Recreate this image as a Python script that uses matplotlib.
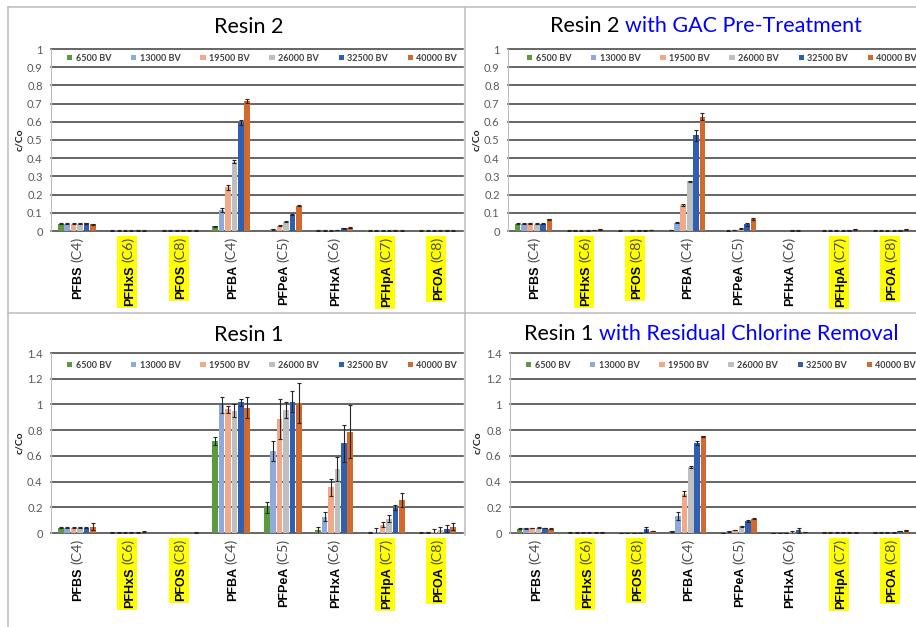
import matplotlib
matplotlib.use("Agg")
import matplotlib.pyplot as plt
import numpy as np
from matplotlib.patches import Rectangle
from matplotlib.lines import Line2D
from matplotlib.ticker import FuncFormatter

plt.rcParams["font.family"] = ["Lato", "DejaVu Sans"]

# ---------------------------------------------------------------- data
categories = ["PFBS", "PFHxS", "PFOS", "PFBA", "PFPeA", "PFHxA", "PFHpA", "PFOA"]
chains = ["C4", "C6", "C8", "C4", "C5", "C6", "C7", "C8"]
highlighted = [False, True, True, False, False, False, True, True]
series = ["6500 BV", "13000 BV", "19500 BV", "26000 BV", "32500 BV", "40000 BV"]

# rows = compounds, columns = bed volumes (c/Co)
resin2 = [
    [0.040, 0.040, 0.040, 0.040, 0.042, 0.036],
    [0.003, 0.003, 0.003, 0.003, 0.003, 0.003],
    [0.002, 0.002, 0.002, 0.002, 0.002, 0.002],
    [0.025, 0.115, 0.240, 0.380, 0.595, 0.715],
    [0.000, 0.010, 0.030, 0.050, 0.090, 0.140],
    [0.002, 0.002, 0.003, 0.005, 0.015, 0.018],
    [0.003, 0.003, 0.003, 0.003, 0.003, 0.003],
    [0.003, 0.003, 0.003, 0.003, 0.003, 0.003],
]
resin2_err = [
    [0.003, 0.002, 0.002, 0.002, 0.002, 0.002],
    [0.001, 0.001, 0.001, 0.001, 0.001, 0.001],
    [0.001, 0.001, 0.001, 0.001, 0.001, 0.001],
    [0.003, 0.010, 0.012, 0.008, 0.015, 0.012],
    [0.000, 0.002, 0.003, 0.003, 0.003, 0.002],
    [0.001, 0.001, 0.001, 0.001, 0.002, 0.002],
    [0.001, 0.001, 0.001, 0.001, 0.001, 0.001],
    [0.001, 0.001, 0.001, 0.001, 0.001, 0.001],
]

resin2_gac = [
    [0.040, 0.040, 0.042, 0.040, 0.040, 0.064],
    [0.003, 0.002, 0.003, 0.002, 0.004, 0.010],
    [0.003, 0.000, 0.002, 0.002, 0.002, 0.004],
    [0.005, 0.046, 0.143, 0.272, 0.527, 0.628],
    [0.000, 0.003, 0.005, 0.013, 0.037, 0.064],
    [0.000, 0.000, 0.000, 0.002, 0.002, 0.000],
    [0.003, 0.003, 0.003, 0.003, 0.003, 0.010],
    [0.003, 0.003, 0.003, 0.003, 0.003, 0.010],
]
resin2_gac_err = [
    [0.002, 0.002, 0.003, 0.002, 0.002, 0.003],
    [0.001, 0.001, 0.001, 0.001, 0.001, 0.002],
    [0.001, 0.000, 0.001, 0.001, 0.001, 0.001],
    [0.002, 0.003, 0.003, 0.005, 0.030, 0.020],
    [0.000, 0.001, 0.002, 0.002, 0.008, 0.005],
    [0.000, 0.000, 0.000, 0.001, 0.001, 0.000],
    [0.001, 0.001, 0.001, 0.001, 0.001, 0.002],
    [0.001, 0.001, 0.001, 0.001, 0.001, 0.002],
]

resin1 = [
    [0.040, 0.040, 0.040, 0.040, 0.040, 0.050],
    [0.003, 0.003, 0.003, 0.003, 0.004, 0.010],
    [0.000, 0.000, 0.000, 0.000, 0.000, 0.005],
    [0.715, 0.995, 0.962, 0.951, 1.016, 0.975],
    [0.200, 0.640, 0.886, 0.956, 1.020, 1.010],
    [0.020, 0.127, 0.355, 0.495, 0.697, 0.788],
    [0.005, 0.010, 0.065, 0.112, 0.198, 0.260],
    [0.005, 0.003, 0.010, 0.020, 0.035, 0.050],
]
resin1_err = [
    [0.003, 0.003, 0.003, 0.003, 0.003, 0.030],
    [0.001, 0.001, 0.001, 0.001, 0.001, 0.002],
    [0.000, 0.000, 0.000, 0.000, 0.000, 0.002],
    [0.030, 0.060, 0.025, 0.050, 0.030, 0.080],
    [0.045, 0.078, 0.154, 0.064, 0.082, 0.156],
    [0.025, 0.035, 0.068, 0.094, 0.143, 0.205],
    [0.002, 0.030, 0.020, 0.030, 0.020, 0.055],
    [0.002, 0.002, 0.025, 0.030, 0.025, 0.030],
]

resin1_cl = [
    [0.035, 0.036, 0.040, 0.042, 0.040, 0.034],
    [0.003, 0.003, 0.003, 0.003, 0.003, 0.003],
    [0.002, 0.002, 0.002, 0.002, 0.028, 0.015],
    [0.015, 0.130, 0.307, 0.513, 0.697, 0.752],
    [0.002, 0.013, 0.023, 0.052, 0.094, 0.112],
    [0.002, 0.002, 0.002, 0.006, 0.020, 0.008],
    [0.003, 0.003, 0.003, 0.003, 0.003, 0.003],
    [0.003, 0.003, 0.003, 0.003, 0.015, 0.020],
]
resin1_cl_err = [
    [0.002, 0.002, 0.002, 0.002, 0.002, 0.002],
    [0.001, 0.001, 0.001, 0.001, 0.001, 0.001],
    [0.001, 0.001, 0.001, 0.001, 0.020, 0.002],
    [0.004, 0.030, 0.020, 0.006, 0.015, 0.006],
    [0.001, 0.002, 0.003, 0.004, 0.005, 0.004],
    [0.001, 0.001, 0.001, 0.010, 0.022, 0.002],
    [0.001, 0.001, 0.001, 0.001, 0.001, 0.001],
    [0.001, 0.001, 0.001, 0.001, 0.003, 0.003],
]

colors = ["#5b9a3d", "#8eaadb", "#f3a88a", "#bfbfbf", "#2f5fb3", "#d2692d"]

# ---------------------------------------------------------------- layout
W, H = 916, 627
fig = plt.figure(figsize=(W / 100, H / 100), dpi=100)
fig.patch.set_facecolor("white")
renderer = fig.canvas.get_renderer()

panels = [
    dict(data=resin2, err=resin2_err, title=("Resin 2", ""), ymax=1.0, step=0.1,
         box=(51, 463, 231, 49), title_xy=(249, 27), ylabel_x=20, legend_dx=16),
    dict(data=resin2_gac, err=resin2_gac_err, title=("Resin 2", "with GAC Pre-Treatment"),
         ymax=1.0, step=0.1, box=(508, 916, 231, 49), title_xy=(706, 26),
         ylabel_x=477, legend_dx=19),
    dict(data=resin1, err=resin1_err, title=("Resin 1", ""), ymax=1.4, step=0.2,
         box=(51, 463, 533, 353), title_xy=(249, 335), ylabel_x=20, legend_dx=16),
    dict(data=resin1_cl, err=resin1_cl_err,
         title=("Resin 1", "with Residual Chlorine Removal"), ymax=1.4, step=0.2,
         box=(510, 916, 533, 353), title_xy=(711, 334), ylabel_x=478, legend_dx=16),
]

SLOT = 0.125
BAR_W = 0.112
GRID_C = "#3c3c3c"


def fx(px):
    return px / W


def fy(py_from_top):
    return 1 - py_from_top / H


def draw_title(cx, cy, black, blue):
    size = 15.5
    t1 = fig.text(0, fy(cy), black, fontsize=size, color="black", va="center", ha="left")
    w1 = t1.get_window_extent(renderer).width
    if blue:
        gap = 6
        t2 = fig.text(0, fy(cy), blue, fontsize=size, color="#0000ff", va="center", ha="left")
        w2 = t2.get_window_extent(renderer).width
        start = cx - (w1 + gap + w2) / 2
        t1.set_x(fx(start))
        t2.set_x(fx(start + w1 + gap))
    else:
        t1.set_x(fx(cx - w1 / 2))


def draw_xlabels(ax):
    for i, (name, chain, hl) in enumerate(zip(categories, chains, highlighted)):
        xd, yd = ax.transData.transform((i, 0))
        xb = xd + 4.5
        ytop = yd - 6
        t1 = fig.text(fx(xb), ytop / H, f"({chain})", rotation=90, rotation_mode="anchor",
                      ha="right", va="baseline", fontsize=10.3, color="#4a4a4a",
                      zorder=3)
        b1 = t1.get_window_extent(renderer)
        t2 = fig.text(fx(xb), (b1.y0 - 3) / H, name, rotation=90, rotation_mode="anchor",
                      ha="right", va="baseline", fontsize=9, weight="bold",
                      family=["Liberation Sans", "DejaVu Sans"], color="black", zorder=3)
        b2 = t2.get_window_extent(renderer)
        if hl:
            y0 = min(b1.y0, b2.y0) - 2
            y1 = ytop + 1
            fig.add_artist(Rectangle((fx(xb - 15.5), y0 / H), 20 / W, (y1 - y0) / H,
                                     transform=fig.transFigure, facecolor="#ffff00",
                                     edgecolor="none", zorder=1))


for p in panels:
    left, right, y0, ytop = p["box"]
    ax = fig.add_axes([fx(left), fy(y0), (right - left) / W, (y0 - ytop) / H])
    ax.set_xlim(-0.5, len(categories) - 0.5)
    ax.set_ylim(0, p["ymax"])
    yt = np.round(np.arange(0, p["ymax"] + p["step"] / 2, p["step"]), 2)
    ax.set_yticks(yt)
    ax.yaxis.set_major_formatter(FuncFormatter(lambda v, _: f"{round(v, 2):g}"))
    ax.set_xticks([])
    ax.tick_params(axis="y", length=0, pad=6, labelsize=8, labelcolor="#595959")
    ax.set_axisbelow(True)
    ax.yaxis.grid(True, color=GRID_C, linewidth=1.1)
    for gl in ax.get_ygridlines():
        gl.set_clip_on(False)
    for s in ["top", "right", "bottom"]:
        ax.spines[s].set_visible(False)
    ax.spines["left"].set_color("#bdbdbd")
    ax.spines["left"].set_linewidth(0.8)
    ax.patch.set_alpha(0)

    data = np.array(p["data"])
    err = np.array(p["err"])
    x = np.arange(len(categories))
    handles = []
    for j, lab in enumerate(series):
        xs = x + (j - 2.5) * SLOT
        bars = ax.bar(xs, data[:, j], width=BAR_W, color=colors[j], zorder=2, label=lab)
        handles.append(bars)
        m = err[:, j] > 0
        if m.any():
            ax.errorbar(xs[m], data[m, j], yerr=err[m, j], fmt="none", ecolor="#262626",
                        elinewidth=0.8, capsize=1.6, capthick=0.8, zorder=3)

    ax_w = right - left
    leg_y = 0.95 if p["ymax"] == 1.0 else 0.933
    ax.legend(handles, series, ncol=6, loc="center left",
              bbox_to_anchor=(p["legend_dx"] / ax_w, leg_y), frameon=False,
              prop=dict(family="Lato", weight="bold", size=6.5),
              handlelength=0.6, handleheight=0.6, handletextpad=0.35,
              columnspacing=2.2, borderpad=0, borderaxespad=0, labelcolor="#404040")

    fig.text(fx(p["ylabel_x"]), fy((y0 + ytop) / 2), "c/Co", rotation=90, ha="center",
             va="center", weight="bold", fontsize=7.5, color="#222222")
    draw_title(p["title_xy"][0], p["title_xy"][1], *p["title"])
    draw_xlabels(ax)

# panel frames
frame_c = "#bcbcbc"
for (xa, ya, xb_, yb) in [(8, 7, 916, 7), (8, 7, 8, 627), (8, 313, 916, 313),
                          (465, 7, 465, 313), (465, 313, 465, 535)]:
    fig.add_artist(Line2D([fx(xa), fx(xb_)], [fy(ya), fy(yb)], transform=fig.transFigure,
                          color=frame_c, linewidth=1.1, zorder=0))

fig.savefig("out.png", dpi=100, facecolor="white")
